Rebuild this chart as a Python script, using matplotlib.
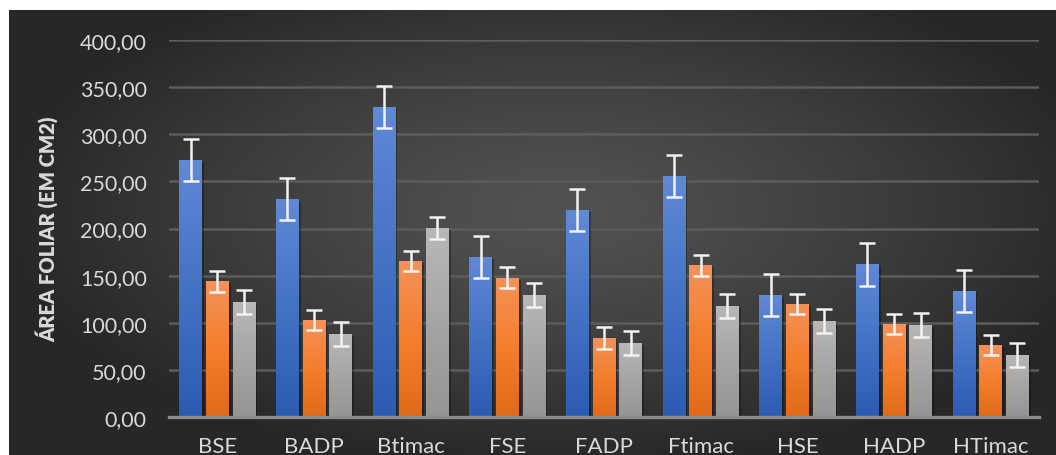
import numpy as np
import matplotlib
matplotlib.use("Agg")
import matplotlib.pyplot as plt
from matplotlib.ticker import FuncFormatter
from matplotlib import patheffects as pe
from matplotlib.colors import LinearSegmentedColormap

categories = ["BSE", "BADP", "Btimac", "FSE", "FADP", "Ftimac", "HSE", "HADP", "HTimac"]
blue_vals = [272.5, 231.0, 329.0, 170.0, 219.5, 255.5, 129.5, 162.0, 133.5]
orange_vals = [144.0, 103.0, 165.5, 148.0, 84.0, 161.0, 120.0, 98.5, 76.5]
gray_vals = [122.0, 88.0, 200.5, 129.5, 78.5, 118.0, 102.0, 97.5, 66.0]
blue_err = [22.5, 22.5, 22.5, 22.5, 22.5, 22.5, 22.0, 22.5, 22.5]
orange_err = [11.0, 11.0, 11.0, 11.0, 11.5, 11.0, 10.5, 10.5, 10.5]
gray_err = [13.0, 13.0, 12.0, 13.0, 13.0, 13.0, 12.5, 13.0, 13.0]
yticks = [0, 50, 100, 150, 200, 250, 300, 350, 400]
ylabel = "ÁREA FOLIAR (EM CM2)"

W, H = 1056, 456
fig = plt.figure(figsize=(W / 100, H / 100), dpi=100)
fig.patch.set_facecolor("white")

# background radial gradient panel
bg = fig.add_axes([9 / W, 0, (W - 9) / W, (H - 11) / H])
bg.set_axis_off()
gx, gy = np.meshgrid(np.linspace(-1, 1, 600), np.linspace(-1, 1, 300))
r = np.sqrt(((gx - 0.05) / 1.05) ** 2 + ((gy + 0.1) / 1.15) ** 2)
r = np.clip(r, 0, 1)
lum = 0.32 - 0.165 * r ** 1.3
bg.imshow(np.dstack([lum, lum, lum]), aspect="auto", extent=[0, 1, 0, 1], interpolation="bilinear")
bg.set_xlim(0, 1)
bg.set_ylim(0, 1)

ax = fig.add_axes([169 / W, (H - 418) / H, 870 / W, 377 / H])
ax.set_facecolor("none")

x = np.arange(len(categories))
bw = 0.233
step = 0.276

cmaps = {
    "blue": LinearSegmentedColormap.from_list("b", ["#2C5BB5", "#4472C4", "#6089D6"]),
    "orange": LinearSegmentedColormap.from_list("o", ["#E06A18", "#F47E2C", "#F4925A"]),
    "gray": LinearSegmentedColormap.from_list("g", ["#959595", "#A5A5A5", "#B8B8B8"]),
}

series = [(blue_vals, blue_err, "blue", -step), (orange_vals, orange_err, "orange", 0.0),
          (gray_vals, gray_err, "gray", step)]

grad = np.linspace(0, 1, 256).reshape(-1, 1)
for vals, errs, cname, off in series:
    bars = ax.bar(x + off, vals, width=bw, facecolor="none", edgecolor="none", zorder=3,
                  path_effects=[pe.SimplePatchShadow(offset=(1.5, -1.5), shadow_rgbFace="black", alpha=0.3),
                                pe.Normal()])
    for b in bars:
        x0, w, h = b.get_x(), b.get_width(), b.get_height()
        im = ax.imshow(grad, cmap=cmaps[cname], origin="lower", aspect="auto",
                       extent=[x0, x0 + w, 0, h], zorder=3.5, interpolation="bilinear")
        im.set_clip_path(b)
    ax.errorbar(x + off, vals, yerr=errs, fmt="none", ecolor="#F2F2F2", elinewidth=1.8,
                capsize=5.5, capthick=1.8, zorder=5)

ax.set_xlim(-0.5, len(categories) - 0.5)
ax.set_ylim(0, 400)

ax.set_yticks(yticks)
ax.yaxis.set_major_formatter(FuncFormatter(lambda v, p: f"{v:.2f}".replace(".", ",")))
ax.set_xticks(x)
ax.set_xticklabels(categories)
ax.grid(axis="y", color="#5C5C5C", linewidth=1.8, zorder=1)
ax.set_axisbelow(True)
for s in ["top", "right", "left"]:
    ax.spines[s].set_visible(False)
ax.spines["bottom"].set_color("#8C8C8C")
ax.spines["bottom"].set_linewidth(2.4)
ax.spines["bottom"].set_zorder(6)

ax.tick_params(axis="both", length=0, colors="#D9D9D9")
ax.tick_params(axis="y", pad=16, labelsize=15.5)
ax.tick_params(axis="x", pad=14, labelsize=16)
for lab in ax.get_yticklabels() + ax.get_xticklabels():
    lab.set_family(["Lato", "DejaVu Sans"])

ax.set_ylabel(ylabel, color="#D9D9D9", fontsize=14.5, fontweight="heavy", family=["Lato", "DejaVu Sans"])
ax.yaxis.set_label_coords(-0.1276, 0.5)

fig.savefig("out.png", dpi=100, facecolor=fig.get_facecolor())
